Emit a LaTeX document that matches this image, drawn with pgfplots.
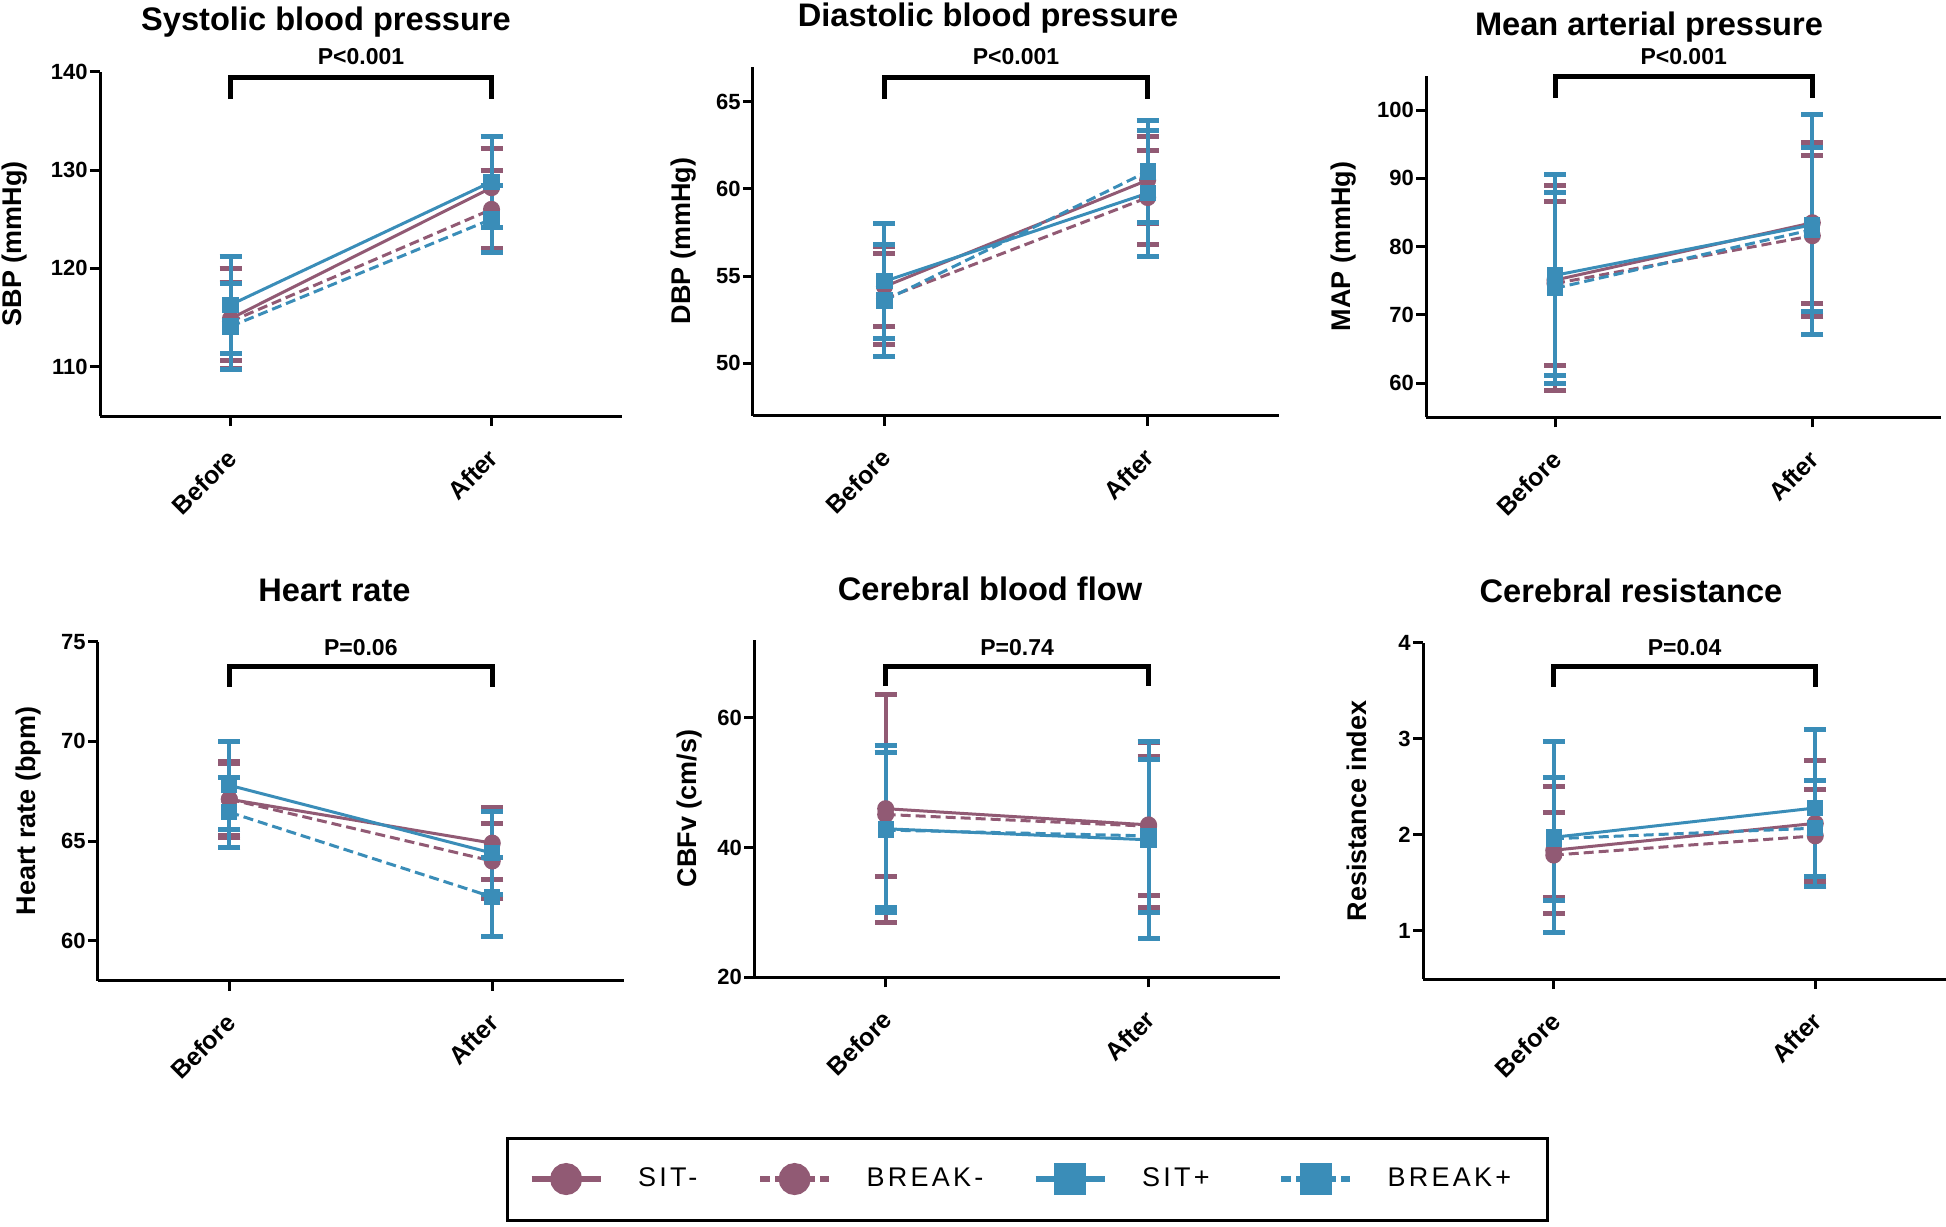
\documentclass[border=0pt]{standalone}
\usepackage{pgfplots}
\pgfplotsset{compat=1.18}
\usepackage{fontspec}
\setmainfont{Liberation Sans}
\newfontfamily\legfont[LetterSpace=12]{Liberation Sans}

\definecolor{mauve}{RGB}{145,90,116}
\definecolor{tblue}{RGB}{58,141,184}

\tikzset{
  brk/.style={line width=2.5pt, black},
  plab/.style={font=\bfseries\fontsize{11.5}{13}\selectfont},
  emk/.style={line width=2.5pt, mark size=5.5pt, solid, rotate=90},
}

\pgfplotsset{
  panel/.style={
    scale only axis, axis lines*=left, clip=false,
    xmin=-0.5, xmax=1.5, xtick={0,1}, xticklabels={Before,After},
    tick align=outside, major tick length=5pt,
    axis line style={line width=1.5pt, black},
    tick style={line width=1.5pt, black},
    /pgf/number format/assume math mode=true,
    yticklabel style={font=\bfseries\fontsize{11}{13}\selectfont, inner xsep=1pt},
    xticklabel style={font=\bfseries\fontsize{12.5}{14}\selectfont, rotate=45, anchor=east, inner sep=0pt, xshift=-9pt, yshift=-10.5pt},
    ylabel style={font=\bfseries\fontsize{13.5}{16}\selectfont, anchor=center, inner sep=0pt},
  },
  ser/.style={line width=1.5pt, mark options={solid},
    legend image code/.code={
      \draw[line width=3pt, mark size=6.5pt, mark repeat=2, mark phase=2]
        plot coordinates {(0pt,0pt) (17.25pt,0pt) (34.5pt,0pt)};
      \path (52.5pt,0pt);},
    error bars/y dir=both, error bars/y explicit,
    error bars/error bar style={line width=2pt, solid}},
  sitm/.style={ser, color=mauve, solid, mark=*, mark size=3.5pt,
    error bars/error mark options={emk, mauve}},
  breakm/.style={ser, color=mauve, dash pattern=on 5pt off 2.5pt, mark=*, mark size=3.5pt,
    error bars/error mark options={emk, mauve}},
  sitp/.style={ser, color=tblue, solid, mark=square*, mark size=3.3pt,
    error bars/error mark options={emk, tblue}},
  breakp/.style={ser, color=tblue, dash pattern=on 5pt off 2.5pt, mark=square*, mark size=3.3pt,
    error bars/error mark options={emk, tblue}},
}

\begin{document}
\begin{tikzpicture}

% Systolic blood pressure
\begin{axis}[panel, at={(50pt,-208pt)}, anchor=south west,
  width=261pt, height=172.2pt, ymin=105, ymax=140, ytick={110,120,130,140},
  ylabel={SBP (mmHg)}, ylabel style={at={(axis description cs:-0.1636,0.5)}}]
\addplot[sitm] coordinates {(0,114.9) +- (0,5.1) (1,128.2) +- (0,4.0)};
\addplot[breakm] coordinates {(0,114.6) +- (0,4.0) (1,126.0) +- (0,4.0)};
\addplot[sitp] coordinates {(0,116.3) +- (0,4.9) (1,128.8) +- (0,4.6)};
\addplot[breakp] coordinates {(0,114.1) +- (0,4.4) (1,125.0) +- (0,3.4)};
\draw[brk] (axis cs:0,137.2) -- (axis cs:0,139.43) -- (axis cs:1,139.43) -- (axis cs:1,137.2);
\node[plab] at (axis cs:0.5,141.5) {P<0.001};
\end{axis}

% Diastolic blood pressure
\begin{axis}[panel, at={(376.45pt,-207.85pt)}, anchor=south west,
  width=263.15pt, height=174.5pt, ymin=47, ymax=67, ytick={50,55,60,65},
  ylabel={DBP (mmHg)}, ylabel style={at={(axis description cs:-0.1322,0.5)}}]
\addplot[sitm] coordinates {(0,54.4) +- (0,2.3) (1,60.5) +- (0,2.5)};
\addplot[breakm] coordinates {(0,53.7) +- (0,2.6) (1,59.5) +- (0,2.7)};
\addplot[sitp] coordinates {(0,54.7) +- (0,3.3) (1,59.75) +- (0,3.6)};
\addplot[breakp] coordinates {(0,53.6) +- (0,3.2) (1,61.0) +- (0,2.9)};
\draw[brk] (axis cs:0,65.15) -- (axis cs:0,66.4) -- (axis cs:1,66.4) -- (axis cs:1,65.15);
\node[plab] at (axis cs:0.5,67.56) {P<0.001};
\end{axis}

% Mean arterial pressure
\begin{axis}[panel, at={(713.15pt,-208.65pt)}, anchor=south west,
  width=257.35pt, height=170.65pt, ymin=55, ymax=105, ytick={60,70,80,90,100},
  ylabel={MAP (mmHg)}, ylabel style={at={(axis description cs:-0.1609,0.5)}}]
\addplot[sitm] coordinates {(0,75.1) += (0,13.9) -= (0,16.2) (1,83.5) +- (0,11.8)};
\addplot[breakm] coordinates {(0,74.6) +- (0,12.0) (1,81.6) +- (0,11.8)};
\addplot[sitp] coordinates {(0,75.8) +- (0,14.7) (1,83.2) +- (0,16.1)};
\addplot[breakp] coordinates {(0,73.9) +- (0,14.0) (1,82.5) +- (0,12.0)};
\draw[brk] (axis cs:0,101.76) -- (axis cs:0,104.93) -- (axis cs:1,104.93) -- (axis cs:1,101.76);
\node[plab] at (axis cs:0.5,107.9) {P<0.001};
\end{axis}

% Heart rate
\begin{axis}[panel, at={(48.95pt,-490.35pt)}, anchor=south west,
  width=262.9pt, height=169.5pt, ymin=58, ymax=75, ytick={60,65,70,75},
  ylabel={Heart rate (bpm)}, ylabel style={at={(axis description cs:-0.1328,0.5)}}]
\addplot[sitm] coordinates {(0,67.1) +- (0,1.9) (1,64.9) +- (0,1.8)};
\addplot[breakm] coordinates {(0,67.1) +- (0,1.8) (1,64.0) +- (0,1.9)};
\addplot[sitp] coordinates {(0,67.8) +- (0,2.2) (1,64.4) +- (0,2.1)};
\addplot[breakp] coordinates {(0,66.45) +- (0,1.75) (1,62.2) +- (0,2.0)};
\draw[brk] (axis cs:0,72.74) -- (axis cs:0,73.74) -- (axis cs:1,73.74) -- (axis cs:1,72.74);
\node[plab] at (axis cs:0.5,74.7) {P=0.06};
\end{axis}

% Cerebral blood flow
\begin{axis}[panel, at={(377.1pt,-488.65pt)}, anchor=south west,
  width=262.9pt, height=168.65pt, ymin=20, ymax=72, ytick={20,40,60},
  ylabel={CBFv (cm/s)}, ylabel style={at={(axis description cs:-0.1229,0.5)}},
  legend columns=4,
  legend style={at={(axis description cs:0.52,-0.598)}, anchor=center,
    draw=black, line width=1.5pt, column sep=0pt,
    inner xsep=10.5pt, inner ysep=14pt, nodes={inner sep=0pt},
    font=\legfont\fontsize{13.5}{16}\selectfont}]
\addplot[sitm] coordinates {(0,46.0) +- (0,17.6) (1,43.5) +- (0,12.7)};
\addlegendentry{\makebox[59.5pt][l]{SIT-}}
\addplot[breakm] coordinates {(0,45.1) +- (0,9.6) (1,43.3) +- (0,10.7)};
\addlegendentry{\makebox[83pt][l]{BREAK-}}
\addplot[sitp] coordinates {(0,42.9) +- (0,12.9) (1,41.2) +- (0,15.2)};
\addlegendentry{\makebox[68pt][l]{SIT+}}
\addplot[breakp] coordinates {(0,42.7) +- (0,11.9) (1,41.8) +- (0,11.8)};
\addlegendentry{\makebox[69.5pt][l]{BREAK+}}
\draw[brk] (axis cs:0,64.88) -- (axis cs:0,67.97) -- (axis cs:1,67.97) -- (axis cs:1,64.88);
\node[plab] at (axis cs:0.5,70.9) {P=0.74};
\end{axis}

% Cerebral resistance
\begin{axis}[panel, at={(711.5pt,-489.5pt)}, anchor=south west,
  width=261.5pt, height=168.15pt, ymin=0.5, ymax=4, ytick={1,2,3,4},
  ylabel={Resistance index}, ylabel style={at={(axis description cs:-0.1264,0.5)}}]
\addplot[sitm] coordinates {(0,1.84) +- (0,0.66) (1,2.12) +- (0,0.65)};
\addplot[breakm] coordinates {(0,1.79) +- (0,0.44) (1,1.99) +- (0,0.48)};
\addplot[sitp] coordinates {(0,1.975) +- (0,0.995) (1,2.28) +- (0,0.82)};
\addplot[breakp] coordinates {(0,1.96) +- (0,0.64) (1,2.07) +- (0,0.5)};
\draw[brk] (axis cs:0,3.543) -- (axis cs:0,3.751) -- (axis cs:1,3.751) -- (axis cs:1,3.543);
\node[plab] at (axis cs:0.5,3.948) {P=0.04};
\end{axis}

\begin{scope}[every node/.style={font=\bfseries\fontsize{16.3}{19}\selectfont, anchor=base, inner sep=0pt}]
\node at (163pt,-15pt) {Systolic blood pressure};
\node at (494pt,-13pt) {Diastolic blood pressure};
\node at (824.5pt,-17.5pt) {Mean arterial pressure};
\node at (167.25pt,-300.85pt) {Heart rate};
\node at (495pt,-300pt) {Cerebral blood flow};
\node at (815.5pt,-301.35pt) {Cerebral resistance};
\end{scope}

\pgfresetboundingbox
\path[use as bounding box] (0pt,0pt) rectangle (973pt,-613pt);
\end{tikzpicture}
\end{document}
